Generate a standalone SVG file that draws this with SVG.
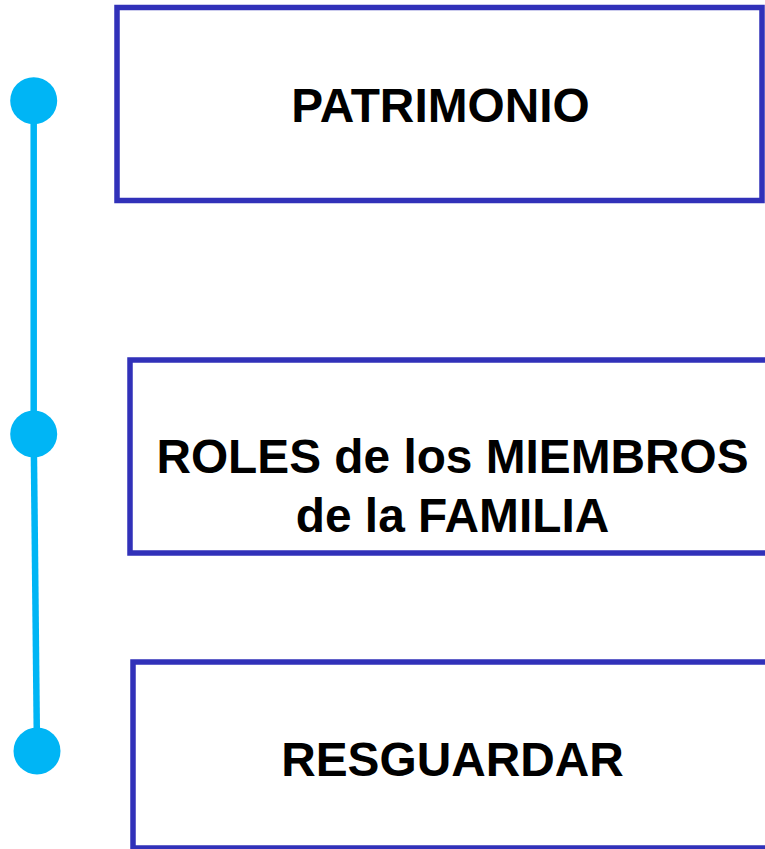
<svg xmlns="http://www.w3.org/2000/svg" width="765" height="849" viewBox="0 0 765 849">
<style>
.box{fill:#fff;stroke:#3131B9;stroke-width:5.5}
.lbl{font-family:"Liberation Sans",Arial,sans-serif;font-weight:bold;font-size:47.8px;fill:#000;text-anchor:middle}
.dot{fill:#00B5F5}
.ln{stroke:#00B5F5;stroke-width:6.5;fill:none}
</style>
<rect width="765" height="849" fill="#fff"/>
<g id="connectors">
<line class="ln" x1="33.7" y1="100.7" x2="33.7" y2="434"/>
<line class="ln" x1="33.7" y1="434" x2="37" y2="751"/>
</g>
<g id="dot1"><circle class="dot" cx="33.7" cy="100.7" r="23.5"/></g>
<g id="dot2"><circle class="dot" cx="33.7" cy="434" r="23.5"/></g>
<g id="dot3"><circle class="dot" cx="37" cy="751" r="23.5"/></g>
<g id="patrimonio">
<rect class="box" x="117" y="7.5" width="645" height="193"/>
<text class="lbl" x="440.5" y="122">PATRIMONIO</text>
</g>
<g id="roles">
<rect class="box" x="130" y="360" width="645" height="193"/>
<text class="lbl" x="452.5" y="473.3">ROLES de los MIEMBROS</text>
<text class="lbl" x="452.5" y="531.7">de la FAMILIA</text>
</g>
<g id="resguardar">
<rect class="box" x="133" y="662" width="645" height="186"/>
<text class="lbl" x="452.5" y="776">RESGUARDAR</text>
</g>
</svg>
